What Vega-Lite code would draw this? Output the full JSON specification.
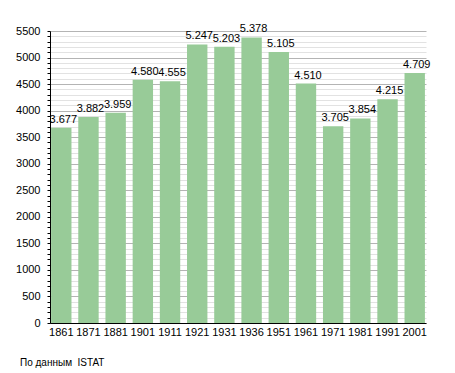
{
  "$schema": "https://vega.github.io/schema/vega-lite/v6.json",
  "width": 376,
  "height": 292,
  "autosize": {"type": "none"},
  "padding": {"left": 50, "top": 31, "right": 29, "bottom": 50},
  "config": {
    "locale": {"number": {"decimal": ",", "thousands": ".", "grouping": [3], "currency": ["", "€"]}},
    "view": {"stroke": null},
    "font": "Liberation Sans"
  },
  "title": {
    "text": "По данным \u00a0ISTAT",
    "orient": "bottom",
    "anchor": "start",
    "frame": "group",
    "dx": -30,
    "offset": 21,
    "fontSize": 10,
    "fontWeight": "normal",
    "color": "#000000",
    "font": "Liberation Sans"
  },
  "data": {
    "values": [
      {"year": "1861", "pop": 3677},
      {"year": "1871", "pop": 3882},
      {"year": "1881", "pop": 3959},
      {"year": "1901", "pop": 4580},
      {"year": "1911", "pop": 4555},
      {"year": "1921", "pop": 5247},
      {"year": "1931", "pop": 5203},
      {"year": "1936", "pop": 5378},
      {"year": "1951", "pop": 5105},
      {"year": "1961", "pop": 4510},
      {"year": "1971", "pop": 3705},
      {"year": "1981", "pop": 3854},
      {"year": "1991", "pop": 4215},
      {"year": "2001", "pop": 4709}
    ]
  },
  "encoding": {
    "x": {
      "field": "year",
      "type": "nominal",
      "sort": null,
      "scale": {"paddingInner": 0.25, "paddingOuter": 0.04},
      "axis": {
        "title": null,
        "labelAngle": 0,
        "ticks": false,
        "labelFontSize": 11,
        "labelColor": "#000000",
        "labelPadding": 3,
        "domainColor": "#000000",
        "domainWidth": 1,
        "grid": false
      }
    },
    "y": {
      "field": "pop",
      "type": "quantitative",
      "scale": {"domain": [0, 5500], "nice": false},
      "axis": {
        "title": null,
        "values": [0,100,200,300,400,500,600,700,800,900,1000,1100,1200,1300,1400,1500,1600,1700,1800,1900,2000,2100,2200,2300,2400,2500,2600,2700,2800,2900,3000,3100,3200,3300,3400,3500,3600,3700,3800,3900,4000,4100,4200,4300,4400,4500,4600,4700,4800,4900,5000,5100,5200,5300,5400,5500],
        "labelExpr": "datum.value % 500 === 0 ? format(datum.value, 'd') : ''",
        "labelFontSize": 11,
        "labelColor": "#000000",
        "labelPadding": 7,
        "tickSize": 3,
        "tickColor": "#000000",
        "domainColor": "#000000",
        "grid": true,
        "gridColor": {"condition": {"test": "datum.value % 500 === 0", "value": "#b4b4b4"}, "value": "#e2e2e2"},
        "labelOverlap": false
      }
    }
  },
  "layer": [
    {"mark": {"type": "bar", "color": "#98cb98"}},
    {
      "mark": {"type": "text", "baseline": "alphabetic", "dy": -5, "dx": 2, "fontSize": 11, "color": "#000000"},
      "encoding": {"text": {"field": "pop", "type": "quantitative", "format": ",d"}}
    }
  ]
}
